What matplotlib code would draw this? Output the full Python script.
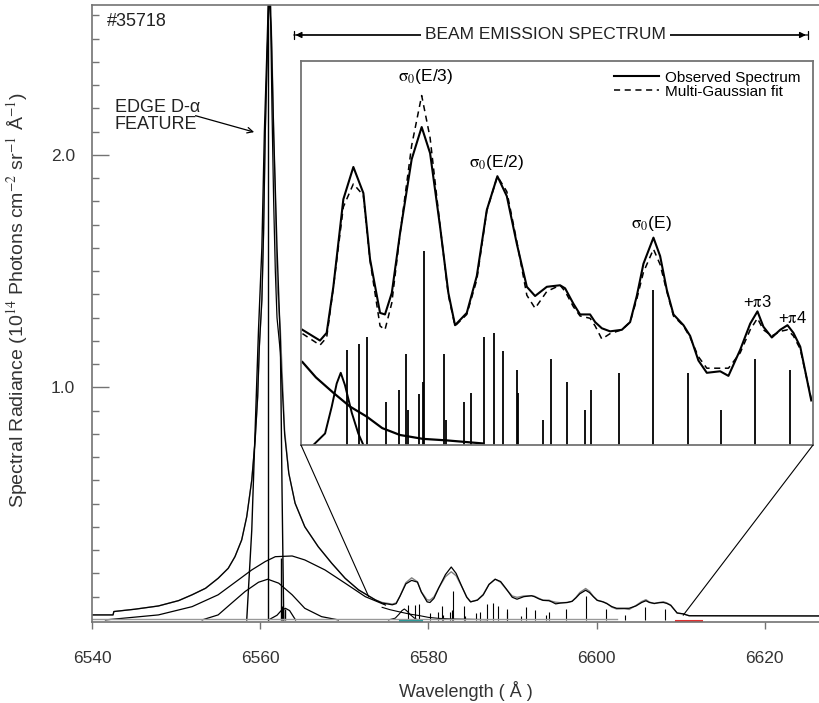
import matplotlib.pyplot as plt
from matplotlib.patches import ConnectionPatch

plt.rcParams['font.family'] = ['Liberation Sans', 'DejaVu Sans']
plt.rcParams['mathtext.fontset'] = 'stix'

# ---- D-alpha region (main axes units: 1e14 photons ...) ----
wing_x = [6540.0, 6542.5, 6542.6, 6545.1, 6547.9, 6550.3, 6551.9, 6553.5, 6555.0,
          6556.2, 6557.0, 6557.8, 6558.4, 6559.0, 6559.4, 6559.7, 6559.9, 6560.2,
          6560.4, 6560.6, 6560.8, 6561.0, 6561.2, 6561.4, 6561.6, 6561.8, 6562.0,
          6562.4, 6562.65, 6562.9, 6563.4, 6564.15, 6565.3, 6566.9, 6568.5, 6570.1,
          6571.7, 6573.7]
wing_obs = [0.0215, 0.0215, 0.036, 0.046, 0.060, 0.083, 0.108, 0.136, 0.179,
            0.222, 0.272, 0.344, 0.444, 0.602, 0.774, 0.960, 1.176, 1.376,
            1.663, 2.093, 2.380, 2.64, 2.70, 2.45, 2.09, 1.81, 1.448,
            1.247, 1.032, 0.817, 0.631, 0.502, 0.401, 0.315, 0.244, 0.179,
            0.129, 0.086]
wing_fit = [0.0215, 0.0215, 0.036, 0.046, 0.060, 0.083, 0.108, 0.136, 0.179,
            0.222, 0.272, 0.344, 0.444, 0.602, 0.774, 0.960, 1.176, 1.376,
            1.663, 2.093, 2.380, 2.64, 2.70, 2.20, 1.80, 1.50, 1.30,
            1.15, 0.98, 0.80, 0.631, 0.502, 0.401, 0.315, 0.244, 0.179,
            0.129, 0.086]

narrow_x = [6558.4, 6559.0, 6559.4, 6559.8, 6560.2, 6560.5, 6560.8, 6561.0,
            6561.3, 6561.6, 6562.0, 6562.4, 6562.6, 6562.8]
narrow_y = [0.0, 0.387, 0.817, 1.247, 1.6, 2.1, 2.45, 2.70,
            2.55, 2.1, 1.6, 1.2, 0.55, 0.0]

broad_x = [6541.6, 6547.9, 6551.9, 6555.0, 6557.4, 6559.0, 6560.6, 6561.8,
           6563.8, 6565.3, 6567.7, 6570.1, 6572.5, 6574.9]
broad_y = [0.0, 0.0215, 0.057, 0.108, 0.172, 0.215, 0.251, 0.272,
           0.275, 0.258, 0.215, 0.158, 0.100, 0.064]

medium_x = [6553.1, 6555.0, 6556.6, 6558.2, 6559.8, 6560.9, 6562.2, 6563.8,
            6565.3, 6567.3, 6569.3]
medium_y = [0.0, 0.0215, 0.072, 0.122, 0.162, 0.175, 0.158, 0.108,
            0.050, 0.014, 0.0]

small_x = [6561.0, 6562.0, 6562.5, 6563.0, 6563.5, 6564.2]
small_y = [0.0, 0.02, 0.04, 0.05, 0.04, 0.0]

dal_stick_x = [6560.9, 6562.45, 6562.65, 6562.9]
dal_stick_y = [2.70, 0.265, 0.06, 0.045]

# ---- beam emission region ----
bes_x = [6574.5, 6575.71, 6576.17, 6576.63, 6577.32, 6578.01, 6578.70, 6579.16,
         6579.85, 6580.19, 6580.66, 6581.23, 6582.03, 6582.72, 6583.30, 6583.99,
         6584.56, 6585.02, 6585.83, 6586.52, 6587.21, 6587.94, 6588.59, 6589.28,
         6589.97, 6590.54, 6591.35, 6592.26, 6592.61, 6593.18, 6593.64, 6594.33,
         6594.68, 6595.14, 6595.71, 6596.52, 6597.09, 6597.55, 6598.01, 6598.70,
         6599.16, 6599.62, 6600.08, 6600.77, 6601.23, 6601.80, 6602.38, 6603.30,
         6603.87, 6604.68, 6605.37, 6605.87, 6606.28, 6606.86, 6607.44, 6607.94,
         6608.35, 6608.82, 6609.58]
bes_obs = [0.075, 0.068, 0.073, 0.103, 0.160, 0.181, 0.164, 0.121,
           0.086, 0.085, 0.099, 0.138, 0.186, 0.207, 0.190, 0.142,
           0.099, 0.078, 0.086, 0.110, 0.153, 0.175, 0.162, 0.131,
           0.103, 0.097, 0.103, 0.104, 0.102, 0.092, 0.085, 0.085,
           0.080, 0.076, 0.074, 0.075, 0.080, 0.097, 0.118, 0.135,
           0.123, 0.101, 0.085, 0.078, 0.071, 0.055, 0.047, 0.048,
           0.045, 0.062, 0.079, 0.087, 0.077, 0.070, 0.075, 0.078,
           0.073, 0.064, 0.029]
bes_fit = [0.0725, 0.065, 0.070, 0.1025, 0.155, 0.170, 0.1625, 0.120,
           0.0775, 0.075, 0.0925, 0.1375, 0.195, 0.2275, 0.200, 0.1425,
           0.0975, 0.0775, 0.085, 0.1075, 0.1525, 0.175, 0.165, 0.1325,
           0.0975, 0.089, 0.100, 0.104, 0.100, 0.090, 0.084, 0.0825,
           0.0775, 0.069, 0.0725, 0.075, 0.080, 0.095, 0.1125, 0.1275,
           0.1175, 0.100, 0.084, 0.0775, 0.070, 0.0575, 0.050, 0.050,
           0.050, 0.060, 0.075, 0.0825, 0.075, 0.071, 0.074, 0.075,
           0.071, 0.0625, 0.030]

far_x = [6610.3, 6611.0, 6626.5]
far_y = [0.026, 0.018, 0.017]

bes_stick_x = [6577.55, 6578.40, 6578.93, 6580.24, 6581.16, 6581.62, 6581.76, 6582.54,
               6582.84, 6582.90, 6584.26, 6584.40, 6585.64, 6586.12, 6586.99, 6587.73,
               6588.31, 6589.32, 6589.39, 6591.07, 6591.64, 6592.72, 6593.99, 6594.38,
               6596.33, 6598.70, 6601.07, 6603.37, 6605.71, 6608.08]
bes_stick_y = [0.062, 0.066, 0.070, 0.028, 0.036, 0.059, 0.023, 0.033,
               0.041, 0.126, 0.059, 0.016, 0.028, 0.034, 0.070, 0.073,
               0.061, 0.049, 0.034, 0.016, 0.056, 0.041, 0.023, 0.036,
               0.047, 0.101, 0.047, 0.023, 0.056, 0.049]

bes_gauss_x = [6575.25, 6576.06, 6576.52, 6576.86, 6577.14, 6577.43, 6577.90, 6578.35, 6578.70]
bes_gauss_y = [0.0, 0.0075, 0.025, 0.040, 0.047, 0.039, 0.021, 0.0075, 0.0]

tail_x = [6574.5, 6575.43, 6576.63, 6577.78, 6578.93, 6580.0, 6581.23, 6582.8, 6584.45, 6586.95]
tail_y = [0.054, 0.044, 0.034, 0.025, 0.0185, 0.011, 0.0065, 0.004, 0.003, 0.001]

zoom_from = [(6572.9, 0.10), (6610.3, 0.02)]

xticks = [6540, 6560, 6580, 6600, 6620]
yticks_major = [1.0, 2.0]
yticks_minor = [0.1 * k for k in range(1, 27)]

spine_grey = '0.45'

fig = plt.figure(figsize=(8.19, 7.03), dpi=100)
ax = fig.add_axes([92 / 819, 1 - 622 / 703, 727 / 819, 617 / 703])

# measured spectrum (grey) and total fit (black)
ax.plot(wing_x + bes_x + far_x, wing_obs + bes_obs + far_y, color='0.5', lw=1.0)
ax.plot(wing_x + bes_x + far_x, wing_fit + bes_fit + far_y, color='k', lw=0.9)

# fit components
ax.plot(narrow_x, narrow_y, color='k', lw=1.0)
ax.plot(broad_x, broad_y, color='k', lw=0.9)
ax.plot(medium_x, medium_y, color='k', lw=0.9)
ax.plot(small_x, small_y, color='k', lw=0.9)
ax.plot(bes_gauss_x, bes_gauss_y, color='k', lw=0.8)
ax.plot(tail_x, tail_y, color='k', lw=0.8)
ax.vlines(dal_stick_x, 0, dal_stick_y, color='k', lw=1.0)
ax.vlines(bes_stick_x, 0, bes_stick_y, color='k', lw=0.8)
ax.plot([6540, 6602.4], [0.002, 0.002], color='0.6', lw=1.0)
ax.plot([6576.6, 6579.2], [-0.006, -0.006], color='#2a9a9a', lw=1.5, clip_on=False)
ax.plot([6609.5, 6612.5], [-0.006, -0.006], color='#e03030', lw=1.5, clip_on=False)

ax.set_xlim(6540, 6626.45)
ax.set_ylim(-0.009, 2.645)
ax.set_xticks(xticks)
ax.set_yticks(yticks_major)
ax.set_yticks(yticks_minor, minor=True)
ax.set_yticklabels(['1.0', '2.0'])
ax.tick_params(axis='y', which='major', direction='in', length=12, width=1.0,
               color=spine_grey, labelsize=12.5, labelcolor='#333333', pad=12)
ax.tick_params(axis='y', which='minor', direction='in', length=5, width=1.0,
               color=spine_grey)
ax.tick_params(axis='x', direction='out', length=5, width=1.0, color=spine_grey,
               labelsize=12.5, labelcolor='#333333', pad=16)
for side in ['left', 'bottom', 'top']:
    ax.spines[side].set_color(spine_grey)
    ax.spines[side].set_linewidth(1.2)
ax.spines['right'].set_visible(False)

ax.set_xlabel('Wavelength ( Å )', fontsize=13, color='#333333')
ax.xaxis.set_label_coords(0.514, -0.096)
ax.set_ylabel(r'Spectral Radiance (10$^{14}$ Photons cm$^{-2}$ sr$^{-1}$ Å$^{-1}$)',
              fontsize=14, color='#333333')
ax.yaxis.set_label_coords(-0.085, 0.522)

ax.text(6541.8, 2.572, '#35718', fontsize=13, color='#222222', va='center', ha='left')
ax.text(6542.7, 2.24, 'EDGE D-α\nFEATURE', fontsize=13, color='#222222',
        va='top', ha='left', linespacing=0.95)
ax.annotate('', xy=(6559.6, 2.095), xytext=(6552.0, 2.172),
            arrowprops=dict(arrowstyle='->', color='k', lw=0.9))

# beam emission span marker
ax.annotate('', xy=(6624.9, 2.516), xytext=(6564.2, 2.516),
            arrowprops=dict(arrowstyle='<|-|>', color='k', lw=0.9,
                            mutation_scale=9, shrinkA=0, shrinkB=0))
ax.annotate('', xy=(6625.1, 2.516), xytext=(6564.0, 2.516),
            arrowprops=dict(arrowstyle='|-|', color='k', lw=0.9,
                            mutation_scale=3, shrinkA=0, shrinkB=0))
ax.text(6593.9, 2.516, 'BEAM EMISSION SPECTRUM', fontsize=12.5, color='#222222',
        ha='center', va='center',
        bbox=dict(facecolor='white', edgecolor='none', pad=3))

# zoomed inset of the beam emission region
ax_in = fig.add_axes([301 / 819, 1 - 445 / 703, 512 / 819, 384 / 703])
ax_in.plot(bes_x, bes_obs, color='k', lw=1.5, label='Observed Spectrum')
ax_in.plot(bes_x, bes_fit, color='k', lw=1.1, ls=(0, (4, 3)), label='Multi-Gaussian fit')
ax_in.vlines(bes_stick_x, 0, bes_stick_y, color='k', lw=1.3)
ax_in.plot(bes_gauss_x, bes_gauss_y, color='k', lw=1.4)
ax_in.plot(tail_x, tail_y, color='k', lw=1.6)
ax_in.set_xlim(6574.4, 6609.7)
ax_in.set_ylim(0, 0.25)
ax_in.set_xticks([])
ax_in.set_yticks([])
for sp in ax_in.spines.values():
    sp.set_color(spine_grey)
    sp.set_linewidth(1.3)

ax_in.text(6583.02, 0.240, r'$\mathrm{\sigma_0}$(E/3)', fontsize=12.5, ha='center', va='center')
ax_in.text(6587.9, 0.184, r'$\mathrm{\sigma_0}$(E/2)', fontsize=12.5, ha='center', va='center')
ax_in.text(6598.54, 0.144, r'$\mathrm{\sigma_0}$(E)', fontsize=12.5, ha='center', va='center')
ax_in.text(6605.83, 0.0933, r'+$\mathrm{\pi}$3', fontsize=12, ha='center', va='center')
ax_in.text(6608.26, 0.0827, r'+$\mathrm{\pi}$4', fontsize=12, ha='center', va='center')

ax_in.legend(loc='upper right', bbox_to_anchor=(0.975, 0.975), frameon=False,
             fontsize=11, handlelength=2.9, handletextpad=0.4, labelspacing=0.0,
             borderaxespad=0, borderpad=0)

for corner, target in zip([(0, 0), (1, 0)], zoom_from):
    con = ConnectionPatch(xyA=corner, coordsA=ax_in.transAxes,
                          xyB=target, coordsB=ax.transData, color='k', lw=0.8)
    fig.add_artist(con)

fig.savefig('out.png', dpi=100)
